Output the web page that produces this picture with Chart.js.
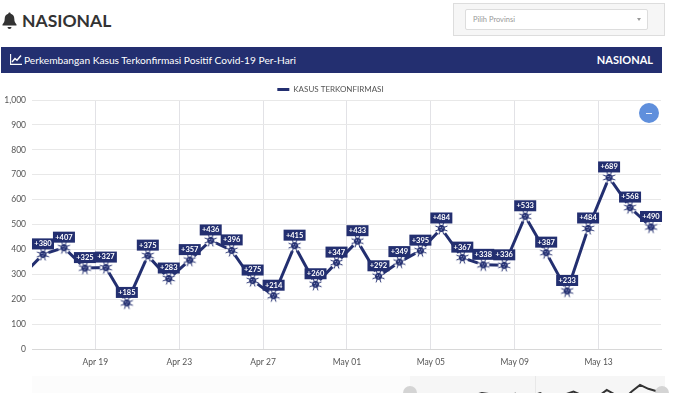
<!DOCTYPE html>
<html>
<head>
<meta charset="utf-8">
<title>Nasional</title>
<script src="https://cdn.jsdelivr.net/npm/chart.js@4/dist/chart.umd.min.js"></script>
<style>
  html, body { margin: 0; padding: 0; width: 700px; height: 393px; overflow: hidden; background: #fff; font-family: Lato, sans-serif; }
  .abs { position: absolute; }
  #title { left: 22px; top: 10px; font-size: 17.5px; line-height: 22px; font-weight: 700; color: #333; }
  #filter { left: 453px; top: 3px; width: 210px; height: 31px; background: #f6f6f6; border: 1px solid #ddd; }
  #select { left: 465px; top: 9px; width: 181px; height: 19px; background: #fff; border: 1px solid #ddd; border-radius: 2px; font-size: 7.5px; line-height: 19px; color: #999; text-indent: 7px; }
  #caret { left: 637px; top: 18px; width: 0; height: 0; border-left: 2.5px solid transparent; border-right: 2.5px solid transparent; border-top: 3px solid #999; }
  #bar { left: 1px; top: 47px; width: 661px; height: 26px; background: #232f70; color: #fff; }
  #barTitle { left: 23px; top: 0; font-size: 10.2px; line-height: 26px; white-space: nowrap; }
  #barRight { right: 9px; top: 0; font-size: 11px; line-height: 26px; font-weight: 700; }
  #mainChart { left: 0; top: 80px; }
  #zoomBtn { left: 639px; top: 103px; width: 20px; height: 20px; border-radius: 50%; background: #5f8fdc; }
  #zoomBtn div { position: absolute; left: 7px; top: 9.5px; width: 6px; height: 1px; background: #e8eefa; }
  #navBack { left: 32px; top: 376px; width: 633px; height: 17px; background: #fcfcfc; }
  #navRange { left: 410px; top: 376px; width: 255px; height: 17px; background: #f6f6f6; }
  #navSplit { left: 535px; top: 376px; width: 1px; height: 17px; background: #e8e8e8; }
  #navChart { left: 407px; top: 375px; }
  .handle { top: 386px; width: 14px; height: 14px; border-radius: 50%; background: #d4d4d4; }
</style>
</head>
<body>

<svg class="abs" style="left:2px;top:12px" width="15" height="17" viewBox="0 0 15 17">
  <path d="M7.5 0.5c.8 0 1.2.6 1.2 1.3 2.4.5 3.6 2.5 3.6 5 0 3 1 4.300 2.200 5.600v1H.5v-1c1.200-1.300 2.200-2.600 2.200-5.600 0-2.500 1.200-4.500 3.600-5 0-.7.400-1.300 1.200-1.300z" fill="#333"/>
  <path d="M5.500 15h4a2 2 0 0 1-4 0z" fill="#333"/>
</svg>
<div class="abs" id="title">NASIONAL</div>

<div class="abs" id="filter"></div>
<div class="abs" id="select">Pilih Provinsi</div>
<div class="abs" id="caret"></div>

<div class="abs" id="bar">
  <svg class="abs" style="left:9px;top:7px" width="12" height="11" viewBox="0 0 12 11">
    <path d="M.6 0v10.400H12" fill="none" stroke="#fff" stroke-width="1.100"/>
    <path d="M2 8l3-3.500 2 1.800L11 1.500" fill="none" stroke="#fff" stroke-width="1.400"/>
  </svg>
  <div class="abs" id="barTitle">Perkembangan Kasus Terkonfirmasi Positif Covid-19 Per-Hari</div>
  <div class="abs" id="barRight">NASIONAL</div>
</div>

<canvas class="abs" id="mainChart" width="664" height="296"></canvas>
<div class="abs" id="zoomBtn"><div></div></div>

<div class="abs" id="navBack"></div>
<div class="abs" id="navRange"></div>
<div class="abs" id="navSplit"></div>
<canvas class="abs" id="navChart" width="258" height="32"></canvas>
<div class="abs handle" style="left:403px"></div>
<div class="abs handle" style="left:655px"></div>

<script>
// ===================== DATA =====================
const dates = ['Apr 15', 'Apr 16', 'Apr 17', 'Apr 18', 'Apr 19', 'Apr 20', 'Apr 21', 'Apr 22', 'Apr 23', 'Apr 24',
  'Apr 25', 'Apr 26', 'Apr 27', 'Apr 28', 'Apr 29', 'Apr 30', 'May 01', 'May 02', 'May 03', 'May 04', 'May 05',
  'May 06', 'May 07', 'May 08', 'May 09', 'May 10', 'May 11', 'May 12', 'May 13', 'May 14', 'May 15'];
const kasus = [294, 380, 407, 325, 327, 185, 375, 283, 357, 436, 396, 275, 214, 415, 260, 347, 433, 292, 349, 395, 484,
  367, 338, 336, 533, 387, 233, 484, 689, 568, 490];
const tickDates = ['Apr 19', 'Apr 23', 'Apr 27', 'May 01', 'May 05', 'May 09', 'May 13'];
const seriesName = 'KASUS TERKONFIRMASI';

const NAVY = '#232f70';
const points = kasus.map((v, i) => ({ x: i, y: v }));

// ===================== MARKER =====================
function virusIcon() {
  const c = document.createElement('canvas');
  c.width = 15;
  c.height = 15;
  const g = c.getContext('2d');
  g.translate(7.5, 7.5);
  g.fillStyle = '#fff';
  g.beginPath();
  g.arc(0, 0, 6, 0, Math.PI * 2);
  g.fill();
  g.strokeStyle = NAVY;
  g.lineWidth = 1;
  for (let i = 0; i < 8; i++) {
    const a = i * Math.PI / 4 + Math.PI / 8;
    g.beginPath();
    g.moveTo(Math.cos(a) * 3, Math.sin(a) * 3);
    g.lineTo(Math.cos(a) * 6.5, Math.sin(a) * 6.5);
    g.stroke();
  }
  g.fillStyle = NAVY;
  g.beginPath();
  g.arc(0, 0, 3.5, 0, Math.PI * 2);
  g.fill();
  g.fillStyle = '#c3c9ea';
  [[-1.2, -1], [1.3, -.6], [-.3, 1.4]].forEach(p => g.fillRect(p[0] - .5, p[1] - .5, 1, 1));
  return c;
}

// ===================== LABELS =====================
// kotak +nilai di atas tiap titik
const boxLabels = {
  id: 'boxLabels',
  afterDatasetsDraw(chart) {
    const ctx = chart.ctx;
    const area = chart.chartArea;
    const meta = chart.getDatasetMeta(0);
    ctx.save();
    ctx.font = 'bold 7.5px Lato, sans-serif';
    ctx.textAlign = 'center';
    ctx.textBaseline = 'middle';
    meta.data.forEach((pt, i) => {
      if (pt.x < area.left) return;
      ctx.fillStyle = NAVY;
      ctx.fillRect(pt.x - 11, pt.y - 16, 22, 11);
      ctx.fillStyle = '#fff';
      ctx.fillText('+' + kasus[i], pt.x, pt.y - 10.5);
    });
    ctx.restore();
  }
};

// ===================== MAIN CHART =====================
new Chart(document.getElementById('mainChart'), {
  type: 'line',
  data: {
    datasets: [{
      label: seriesName,
      data: points,
      borderColor: NAVY,
      backgroundColor: NAVY,
      borderWidth: 3,
      pointStyle: virusIcon(),
      clip: 0
    }]
  },
  options: {
    responsive: false,
    animation: false,
    layout: { autoPadding: false, padding: { top: 3, right: 3 } },
    plugins: {
      tooltip: { enabled: false },
      legend: {
        position: 'top',
        maxHeight: 17,
        labels: {
          boxWidth: 12,
          boxHeight: 3,
          padding: 2.5,
          color: '#555',
          font: { family: 'Lato, sans-serif', size: 8 },
          generateLabels(chart) {
            return Chart.defaults.plugins.legend.labels.generateLabels(chart).map(l => ({ ...l, lineWidth: 0 }));
          }
        }
      }
    },
    scales: {
      x: {
        type: 'linear',
        min: 10 / 21,
        max: 640 / 21,
        // tick sits half a day before its point, as in the source chart
        afterBuildTicks(axis) {
          axis.ticks = tickDates.map(d => ({ value: dates.indexOf(d) - 0.5, label: d }));
        },
        afterFit(axis) {
          axis.height = 27;
          axis.paddingLeft = 0;
          axis.paddingRight = 0;
        },
        grid: { color: '#e2e2e6', drawTicks: false },
        border: { color: '#d8d8d8' },
        ticks: {
          autoSkip: false,
          maxRotation: 0,
          padding: 8,
          color: '#555',
          font: { family: 'Lato, sans-serif', size: 8.5 },
          callback: (v, i) => tickDates[i]
        }
      },
      y: {
        min: 0,
        max: 1000,
        afterFit(axis) { axis.width = 32; },
        grid: { color: '#e8e8e8', drawTicks: false },
        border: { display: false },
        ticks: {
          stepSize: 100,
          padding: 6,
          color: '#555',
          font: { family: 'Lato, sans-serif', size: 8.5 }
        }
      }
    }
  },
  plugins: [boxLabels]
});

// ===================== NAVIGATOR =====================
new Chart(document.getElementById('navChart'), {
  type: 'line',
  data: {
    datasets: [{ data: points, borderColor: '#333', borderWidth: 2, pointRadius: 0 }]
  },
  options: {
    responsive: false,
    animation: false,
    layout: { autoPadding: false },
    plugins: { legend: { display: false }, tooltip: { enabled: false } },
    scales: {
      x: { type: 'linear', display: false, min: 0, max: 31 },
      y: { display: false, min: 0, max: 1000 }
    }
  }
});
</script>
</body>
</html>
